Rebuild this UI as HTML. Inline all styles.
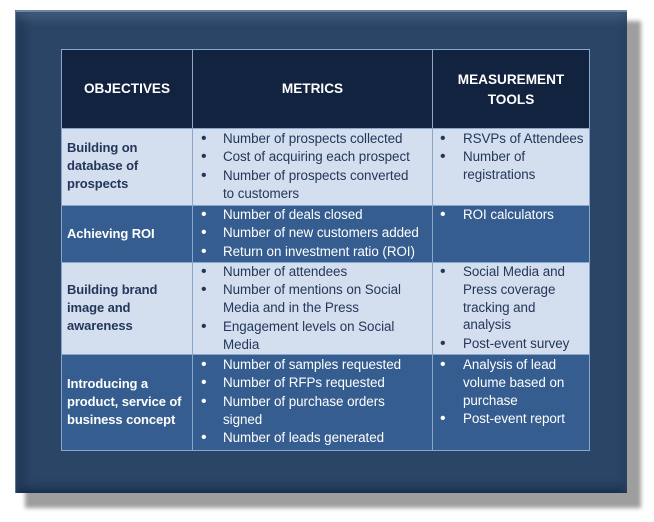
<!DOCTYPE html>
<html><head><meta charset="utf-8"><style>
*{margin:0;padding:0;box-sizing:border-box}
body{width:654px;height:522px;background:#fff;position:relative;overflow:hidden;font-family:"Liberation Sans",sans-serif}
.sh{position:absolute;left:25px;top:21px;width:616px;height:487px;background:#9e9e9e;filter:blur(2px)}
.pn{position:absolute;left:15px;top:10px;width:612px;height:483px;background:#2b4566;
 box-shadow:inset 0 2px 0 #6c86a8, inset 0 8px 10px rgba(120,150,190,.35), inset 6px 0 10px rgba(10,25,50,.45), inset -3px 0 6px rgba(10,25,50,.3), inset 0 -6px 10px rgba(20,40,70,.4);border-left:1px solid #5d7697}
.c{position:absolute;border:1px solid #8ba6cb}
.t{position:absolute;font-size:13.4px;line-height:18px;letter-spacing:-0.05px;white-space:nowrap}
.b{position:absolute;font-size:16px;line-height:18px;white-space:nowrap}
.o{position:absolute;font-size:13px;font-weight:bold;line-height:18px;letter-spacing:-0.1px;white-space:nowrap}
.h{position:absolute;color:#fff;font-weight:bold;font-size:13.6px;line-height:20px;text-align:center}
.L{color:#24375a}.D{color:#fff}
</style></head><body>
<div class="sh"></div>
<div class="pn"></div>
<div class="c" style="left:61px;top:49px;width:132px;height:80px;background:#12233f"></div>
<div class="c" style="left:192px;top:49px;width:241px;height:80px;background:#12233f"></div>
<div class="c" style="left:432px;top:49px;width:158px;height:80px;background:#12233f"></div>

<div class="c" style="left:61px;top:128px;width:132px;height:78px;background:#d3deee"></div>
<div class="c" style="left:192px;top:128px;width:241px;height:78px;background:#d3deee"></div>
<div class="c" style="left:432px;top:128px;width:158px;height:78px;background:#d3deee"></div>

<div class="c" style="left:61px;top:205px;width:132px;height:58px;background:#355d8f"></div>
<div class="c" style="left:192px;top:205px;width:241px;height:58px;background:#355d8f"></div>
<div class="c" style="left:432px;top:205px;width:158px;height:58px;background:#355d8f"></div>

<div class="c" style="left:61px;top:262px;width:132px;height:93px;background:#d3deee"></div>
<div class="c" style="left:192px;top:262px;width:241px;height:93px;background:#d3deee"></div>
<div class="c" style="left:432px;top:262px;width:158px;height:93px;background:#d3deee"></div>

<div class="c" style="left:61px;top:354px;width:132px;height:97px;background:#355d8f"></div>
<div class="c" style="left:192px;top:354px;width:241px;height:97px;background:#355d8f"></div>
<div class="c" style="left:432px;top:354px;width:158px;height:97px;background:#355d8f"></div>

<div class="h" style="left:61px;top:79px;width:132px">OBJECTIVES</div>
<div class="h" style="left:192px;top:79px;width:241px">METRICS</div>
<div class="h" style="left:432px;top:70px;width:158px">MEASUREMENT<br>TOOLS</div>

<div class="o L" style="left:67px;top:139px">Building on</div>
<div class="o L" style="left:67px;top:157px">database of</div>
<div class="o L" style="left:67px;top:175px">prospects</div>
<div class="b L" style="left:201px;top:130px">•</div><div class="t L" style="left:223px;top:130px">Number of prospects collected</div>
<div class="b L" style="left:201px;top:148px">•</div><div class="t L" style="left:223px;top:148px">Cost of acquiring each prospect</div>
<div class="b L" style="left:201px;top:167px">•</div><div class="t L" style="left:223px;top:167px">Number of prospects converted</div>
<div class="t L" style="left:223px;top:185px">to customers</div>
<div class="b L" style="left:440px;top:130px">•</div><div class="t L" style="left:463px;top:130px">RSVPs of Attendees</div>
<div class="b L" style="left:440px;top:148px">•</div><div class="t L" style="left:463px;top:148px">Number of</div>
<div class="t L" style="left:463px;top:166px">registrations</div>

<div class="o D" style="left:67px;top:225px">Achieving ROI</div>
<div class="b D" style="left:201px;top:206px">•</div><div class="t D" style="left:223px;top:206px">Number of deals closed</div>
<div class="b D" style="left:201px;top:224px">•</div><div class="t D" style="left:223px;top:224px">Number of new customers added</div>
<div class="b D" style="left:201px;top:243px">•</div><div class="t D" style="left:223px;top:243px">Return on investment ratio (ROI)</div>
<div class="b D" style="left:440px;top:206px">•</div><div class="t D" style="left:463px;top:206px">ROI calculators</div>

<div class="o L" style="left:67px;top:281px">Building brand</div>
<div class="o L" style="left:67px;top:299px">image and</div>
<div class="o L" style="left:67px;top:317px">awareness</div>
<div class="b L" style="left:201px;top:263px">•</div><div class="t L" style="left:223px;top:263px">Number of attendees</div>
<div class="b L" style="left:201px;top:281px">•</div><div class="t L" style="left:223px;top:281px">Number of mentions on Social</div>
<div class="t L" style="left:223px;top:299px">Media and in the Press</div>
<div class="b L" style="left:201px;top:318px">•</div><div class="t L" style="left:223px;top:318px">Engagement levels on Social</div>
<div class="t L" style="left:223px;top:336px">Media</div>
<div class="b L" style="left:440px;top:263px">•</div><div class="t L" style="left:463px;top:263px">Social Media and</div>
<div class="t L" style="left:463px;top:281px">Press coverage</div>
<div class="t L" style="left:463px;top:299px">tracking and</div>
<div class="t L" style="left:463px;top:316px">analysis</div>
<div class="b L" style="left:440px;top:335px">•</div><div class="t L" style="left:463px;top:335px">Post-event survey</div>

<div class="o D" style="left:67px;top:375px">Introducing a</div>
<div class="o D" style="left:67px;top:393px">product, service of</div>
<div class="o D" style="left:67px;top:411px">business concept</div>
<div class="b D" style="left:201px;top:356px">•</div><div class="t D" style="left:223px;top:356px">Number of samples requested</div>
<div class="b D" style="left:201px;top:374px">•</div><div class="t D" style="left:223px;top:374px">Number of RFPs requested</div>
<div class="b D" style="left:201px;top:393px">•</div><div class="t D" style="left:223px;top:393px">Number of purchase orders</div>
<div class="t D" style="left:223px;top:411px">signed</div>
<div class="b D" style="left:201px;top:429px">•</div><div class="t D" style="left:223px;top:429px">Number of leads generated</div>
<div class="b D" style="left:440px;top:356px">•</div><div class="t D" style="left:463px;top:356px">Analysis of lead</div>
<div class="t D" style="left:463px;top:374px">volume based on</div>
<div class="t D" style="left:463px;top:392px">purchase</div>
<div class="b D" style="left:440px;top:410px">•</div><div class="t D" style="left:463px;top:410px">Post-event report</div>
</body></html>
